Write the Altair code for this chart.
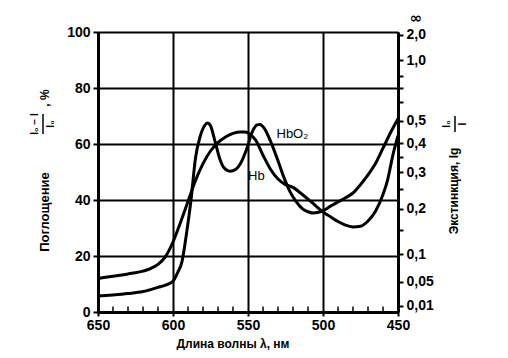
import altair as alt
import pandas as pd

# --- data ---
hb_lam = [650, 640, 630, 620, 615, 610, 605, 600, 595, 590, 585, 580, 575, 570, 565, 560, 555, 552,
          548, 545, 540, 535, 530, 525, 520, 515, 510, 505, 500, 495, 490, 485, 480, 475, 470, 465,
          460, 457, 455, 453, 451, 450]
hb_pct = [12, 12.8, 13.6, 14.6, 15.5, 17, 19.8, 25, 32, 39.5, 47, 53, 57.5, 60.5, 62.5, 63.8, 64.3, 64.3,
          63.2, 61.5, 56, 51, 47.5, 45.5, 44.5, 42.5, 40.3, 38, 35.7, 34, 32.3, 31, 30.4, 30.6, 32.5, 36,
          42, 47, 52, 57, 61, 63]

hbo2_lam = [650, 640, 630, 620, 610, 605, 600, 597, 594, 591, 588, 585, 582, 579, 577, 575, 572, 569,
            566, 562, 558, 555, 551, 547, 544, 542, 539, 535, 530, 526, 522, 518, 514, 510, 507, 503,
            500, 495, 490, 485, 480, 475, 470, 465, 460, 455, 450]
hbo2_pct = [5.7, 6.1, 6.6, 7.3, 8.8, 9.6, 11, 14, 18, 28, 40, 55, 62.5, 66.5, 67.5, 66.5, 61, 55,
            51.5, 50.3, 51, 53, 58, 64.5, 66.8, 67, 65.5, 61, 54, 48, 43, 39.5, 37, 35.8, 35.4, 35.6,
            36.2, 37.8, 39.3, 40.8, 42.5, 45.5, 49, 53, 58.5, 64, 69]

x_ticks = [650, 600, 550, 500, 450]
x_minor = [640, 630, 620, 610, 590, 580, 570, 560, 540, 530, 520, 510, 490, 480, 470, 460]
y_ticks = [0, 20, 40, 60, 80, 100]
ext_major = [2.0, 1.0, 0.5, 0.4, 0.3, 0.2, 0.1, 0.05, 0.01]
ext_labels = ["2,0", "1,0", "0,5", "0,4", "0,3", "0,2", "0,1", "0,05", "0,01"]
ext_minor = [0.8, 0.7, 0.6, 0.35, 0.25, 0.15]

# --- tables ---
rows = []
for i, (l, p) in enumerate(zip(hb_lam, hb_pct)):
    rows.append({"series": "Hb", "lam": l, "pct": p, "idx": i})
for i, (l, p) in enumerate(zip(hbo2_lam, hbo2_pct)):
    rows.append({"series": "HbO2", "lam": l, "pct": p, "idx": i})
df = pd.DataFrame(rows)

def e2pct(e):
    return round(100 * (1 - 10 ** (-e)), 3)

right_vals = [e2pct(e) for e in ext_major] + [e2pct(e) for e in ext_minor]
expr = "''"
for e, lab in reversed(list(zip(ext_major, ext_labels))):
    expr = f"abs(datum.value - {e2pct(e)}) < 0.01 ? '{lab}' : ({expr})"

FONT = "Liberation Sans"
xscale = alt.Scale(domain=[450, 650], reverse=True, nice=False, zero=False)
yscale = alt.Scale(domain=[0, 100], nice=False)

xaxis = alt.Axis(values=x_ticks, grid=True, gridColor="black", gridWidth=2, domainWidth=3,
                 domainColor="black", tickColor="black", tickWidth=2, tickSize=4, labelPadding=2,
                 labelFont=FONT, labelFontSize=14, labelFontWeight="bold", labelColor="black",
                 format="d", title=None, labelFlush=False)
yaxis = alt.Axis(values=y_ticks, grid=True, gridColor="black", gridWidth=2, domainWidth=3,
                 domainColor="black", tickColor="black", tickWidth=2, tickSize=5, labelPadding=3,
                 labelFont=FONT, labelFontSize=14, labelFontWeight="bold", labelColor="black",
                 title=None, orient="left")
raxis = alt.Axis(values=right_vals, grid=False, domainWidth=3, domainColor="black",
                 tickColor="black", tickWidth=2, tickSize=5, labelPadding=3, labelExpr=expr,
                 labelFont=FONT, labelFontSize=14, labelFontWeight="bold", labelColor="black",
                 title=None, orient="right", labelOverlap=False, labelBound=False)

lines = alt.Chart(df).mark_line(color="black", strokeWidth=3, interpolate="monotone").encode(
    x=alt.X("lam:Q", scale=xscale, axis=xaxis),
    y=alt.Y("pct:Q", scale=yscale, axis=yaxis),
    detail="series:N",
    order="idx:Q",
)

minor_df = pd.DataFrame({"lam": x_minor, "y0": [0] * len(x_minor), "y1": [2] * len(x_minor)})
minor = alt.Chart(minor_df).mark_rule(color="black", strokeWidth=1.5).encode(
    x=alt.X("lam:Q", scale=xscale, axis=xaxis),
    y=alt.Y("y0:Q", scale=yscale, axis=None),
    y2="y1:Q",
)

inf_df = pd.DataFrame({"lam": [450], "pct": [104.9], "t": ["∞"]})
inf = alt.Chart(inf_df).mark_text(font="DejaVu Sans", fontSize=15, fontWeight="bold", dx=18,
                                  color="black").encode(
    x=alt.X("lam:Q", scale=xscale, axis=xaxis),
    y=alt.Y("pct:Q", scale=yscale, axis=raxis),
    text="t:N",
)

lab_df = pd.DataFrame({"lam": [531, 550], "pct": [63.5, 48.6], "t": ["HbO₂", "Hb"]})
labels = alt.Chart(lab_df).mark_text(font=FONT, fontSize=13, align="left", color="black").encode(
    x=alt.X("lam:Q", scale=xscale, axis=xaxis),
    y=alt.Y("pct:Q", scale=yscale, axis=None),
    text="t:N",
)

def txt(s, x, y, size=12, angle=0):
    return alt.Chart(pd.DataFrame({"t": [s]})).mark_text(
        font=FONT, fontSize=size, fontWeight="bold", angle=angle, align="center",
        baseline="middle", color="black").encode(x=alt.value(x), y=alt.value(y), text="t:N")

def bar(x, y1, y2):
    return alt.Chart(pd.DataFrame({"a": [0]})).mark_rule(color="black", strokeWidth=1.5).encode(
        x=alt.value(x), y=alt.value(y1), y2=alt.value(y2))

titles = [
    txt("Длина волны λ, нм", 135, 312, 12),
    txt("Поглощение", -53, 180, 13, 270),
    txt("I₀ − I", -63, 92, 10, 270),
    bar(-55, 82, 102),
    txt("I₀", -47, 92, 10, 270),
    txt(", %", -53, 66, 12, 270),
    txt("Экстинкция, lg", 356, 159, 12, 270),
    txt("I₀", 349, 92, 10, 270),
    bar(357, 84, 100),
    txt("I", 365, 92, 10, 270),
]

chart = alt.layer(lines, minor, labels, inf, *titles).resolve_scale(y="independent").properties(
    width=300, height=280,
    autosize=alt.AutoSizeParams(type="none"),
    padding={"left": 90, "top": 24, "right": 102, "bottom": 38},
).configure_view(stroke=None).configure(background="white")

chart.save("out.html", embed_options={"renderer": "svg", "actions": False})
